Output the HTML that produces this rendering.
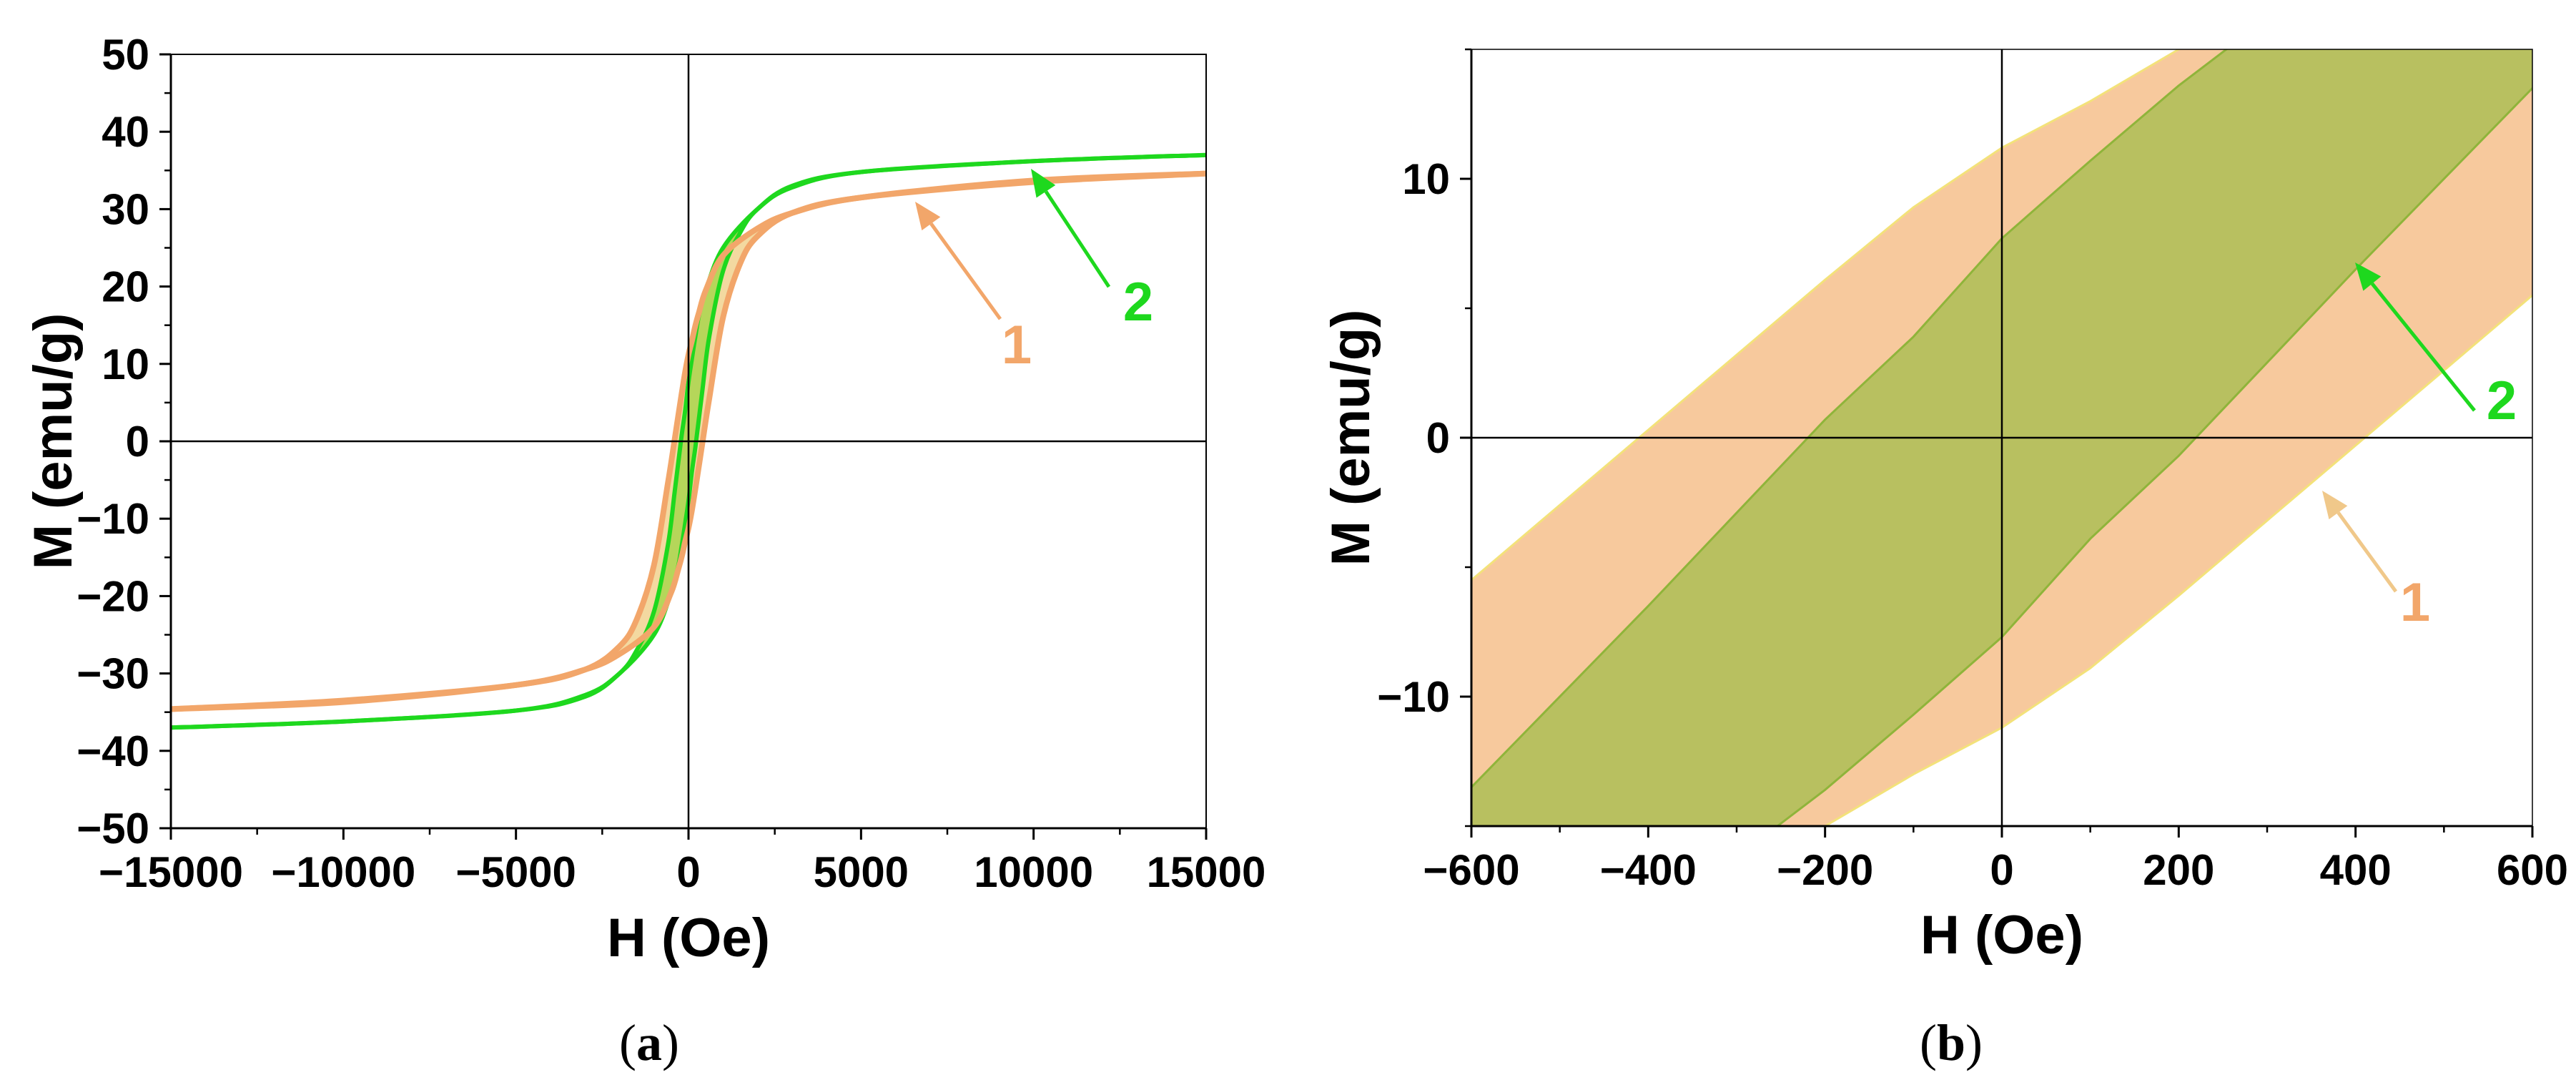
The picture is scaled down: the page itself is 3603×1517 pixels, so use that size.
<!DOCTYPE html>
<html><head><meta charset="utf-8"><style>
html,body{margin:0;padding:0;background:#fff;width:3603px;height:1517px;overflow:hidden}
svg{display:block}
text{font-family:"Liberation Sans",Arial,sans-serif;font-weight:bold}
</style></head><body>
<svg id="fig" width="3603" height="1517" viewBox="0 0 3603 1517" xmlns="http://www.w3.org/2000/svg">
<defs>
<clipPath id="clipA"><rect x="239" y="76" width="1448" height="1082"/></clipPath>
<clipPath id="clipB"><rect x="2058" y="69" width="1484" height="1086"/></clipPath>
</defs>
<g id="panelA"></g>
<g id="panelB"></g>
<text x="908" y="1482" font-size="72" text-anchor="middle" style="font-family:'Liberation Serif',serif;font-weight:normal">(<tspan font-weight="bold">a</tspan>)</text>
<text x="2729" y="1482" font-size="72" text-anchor="middle" style="font-family:'Liberation Serif',serif;font-weight:normal">(<tspan font-weight="bold">b</tspan>)</text>
</svg>
<script>
// Upper (descending) branch H grid and magnetization values; lower branch is M_low(H) = -M_up(-H)
const fieldH = [-15000,-10000,-5000,-3000,-2000,-1500,-1000,-600,-400,-200,-100,0,100,200,300,500,1000,2000,3000,5000,10000,15000];
const sample1Upper = [-34.6,-33.5,-31.5,-29.5,-26.5,-23,-16,-5.5,0.3,6.1,8.9,11.2,13.0,15.0,16.6,19.5,24,27.5,29.5,31.5,33.7,34.6];
const sample2Upper = [-37,-36.2,-34.8,-33,-30,-27,-22,-13.5,-6.5,0.7,3.9,7.7,10.7,13.6,16.2,19.5,25,30,32.8,34.8,36.2,37];
const ticksAX = [-15000,-10000,-5000,0,5000,10000,15000];
const ticksAY = [-50,-40,-30,-20,-10,0,10,20,30,40,50];
const ticksBX = [-600,-400,-200,0,200,400,600];
const ticksBY = [-10,0,10];

const NS = "http://www.w3.org/2000/svg";
function mk(parent, tag, attrs, txt){
  const e = document.createElementNS(NS, tag);
  for (const k in attrs) e.setAttribute(k, attrs[k]);
  if (txt !== undefined) e.textContent = txt;
  parent.appendChild(e);
  return e;
}
function fmt(v){ return v < 0 ? "\u2212" + Math.abs(v) : String(v); }

function loopPts(up, sx, sy){
  const upper = fieldH.map((h,i)=>[sx(h), sy(up[i])]);
  const lower = fieldH.map((h,i)=>[sx(-h), sy(-up[i])]);
  return {upper, lower};
}
function smoothPath(pts){
  let d = "M" + pts[0][0].toFixed(1) + "," + pts[0][1].toFixed(1);
  for (let i=0;i<pts.length-1;i++){
    const p0 = pts[Math.max(0,i-1)], p1 = pts[i], p2 = pts[i+1], p3 = pts[Math.min(pts.length-1,i+2)];
    const c1 = [p1[0]+(p2[0]-p0[0])/6, p1[1]+(p2[1]-p0[1])/6];
    const c2 = [p2[0]-(p3[0]-p1[0])/6, p2[1]-(p3[1]-p1[1])/6];
    d += " C"+c1[0].toFixed(1)+","+c1[1].toFixed(1)+" "+c2[0].toFixed(1)+","+c2[1].toFixed(1)+" "+p2[0].toFixed(1)+","+p2[1].toFixed(1);
  }
  return d;
}
function linePath(pts){
  return pts.map((p,i)=>(i?"L":"M")+p[0].toFixed(1)+","+p[1].toFixed(1)).join(" ");
}
function loopFillPath(up, sx, sy, fn){
  const {upper, lower} = loopPts(up, sx, sy);
  return fn(upper) + fn(lower).replace(/^M/, " L") + " Z";
}

function arrow(g, x1,y1,x2,y2,color,w,name){
  const a = Math.atan2(y2-y1, x2-x1), L = 38, W = 16;
  const bx = x2 - L*Math.cos(a), by = y2 - L*Math.sin(a);
  const ln = mk(g,"line",{x1:x1,y1:y1,x2:bx,y2:by,stroke:color,"stroke-width":w});
  
  
  const hd = mk(g,"polygon",{points:[x2,y2, bx+W*Math.sin(a), by-W*Math.cos(a), bx-W*Math.sin(a), by+W*Math.cos(a)].join(","), fill:color});
  
  
}

function panel(g, cfg){
  const {L,R,T,B,xmin,xmax,ymin,ymax,xt,yt,xminor,yminor,clip} = cfg;
  const sx = h => L + (h - xmin)/(xmax - xmin)*(R - L);
  const sy = m => B - (m - ymin)/(ymax - ymin)*(B - T);
  const data = mk(g,"g",{"clip-path":"url(#"+clip+")"});
  
  
  cfg.draw(data, sx, sy);
  const zx = mk(g,"line",{x1:sx(0),y1:T,x2:sx(0),y2:B,stroke:"#000","stroke-width":2.5});
  
  
  const zy = mk(g,"line",{x1:L,y1:sy(0),x2:R,y2:sy(0),stroke:"#000","stroke-width":2.5});
  
  
  const fr = mk(g,"path",{d:`M${L},${B} L${L},${T} L${R},${T} L${R},${B} Z`,fill:"none",stroke:"#000","stroke-width":cfg.topW});
  
  
  const ax = mk(g,"line",{x1:L,y1:B,x2:R,y2:B,stroke:"#000","stroke-width":3});
  
  
  const ay = mk(g,"line",{x1:L,y1:T,x2:L,y2:B,stroke:"#000","stroke-width":3});
  
  
  xt.forEach(v=>{
    const t = mk(g,"line",{x1:sx(v),y1:B,x2:sx(v),y2:B+16,stroke:"#000","stroke-width":3});
    
    
    const lb = mk(g,"text",{x:sx(v),y:B+82,"font-size":cfg.fs,"text-anchor":"middle"},fmt(v));
    
    
  });
  xminor.forEach(v=>{
    const t = mk(g,"line",{x1:sx(v),y1:B,x2:sx(v),y2:B+9,stroke:"#000","stroke-width":2.5});
    
    
  });
  yt.forEach(v=>{
    const t = mk(g,"line",{x1:L-16,y1:sy(v),x2:L,y2:sy(v),stroke:"#000","stroke-width":3});
    
    
    const lb = mk(g,"text",{x:L-cfg.ylOff,y:sy(v)+21,"font-size":cfg.fs,"text-anchor":"end"},fmt(v));
    
    
  });
  yminor.forEach(v=>{
    const t = mk(g,"line",{x1:L-9,y1:sy(v),x2:L,y2:sy(v),stroke:"#000","stroke-width":2.5});
    
    
  });
  const xtl = mk(g,"text",{x:(L+R)/2,y:cfg.xtY,"font-size":76,"text-anchor":"middle"},"H (Oe)");
  
  
  const ytl = mk(g,"text",{x:0,y:0,"font-size":76,"text-anchor":"middle",transform:`translate(${cfg.ytX},${(T+B)/2}) rotate(-90)`},"M (emu/g)");
  
  
  return {sx, sy};
}

const ORANGE = "#f2a66a", GREEN = "#1ed81e";

panel(document.getElementById("panelA"), {
  L:239,R:1687,T:76,B:1158,xmin:-15000,xmax:15000,ymin:-50,ymax:50,
  xt:ticksAX, yt:ticksAY,
  xminor:[-12500,-7500,-2500,2500,7500,12500],
  yminor:[-45,-35,-25,-15,-5,5,15,25,35,45],
  clip:"clipA", fs:60, ylOff:30, xtY:1337, ytX:100, topW:2,
  draw:(g,sx,sy)=>{
    const f1 = mk(g,"path",{d:loopFillPath(sample1Upper,sx,sy,smoothPath),fill:"#f3d9a0",stroke:"none"});
    
    
    const f2 = mk(g,"path",{d:loopFillPath(sample2Upper,sx,sy,smoothPath),fill:"#b5d65a",stroke:"none"});
    
    
    const p2 = loopPts(sample2Upper,sx,sy);
    [p2.upper,p2.lower].forEach((pts,i)=>{
      const l = mk(g,"path",{d:smoothPath(pts),fill:"none",stroke:GREEN,"stroke-width":6});
      
      
    });
    const p1 = loopPts(sample1Upper,sx,sy);
    [p1.upper,p1.lower].forEach((pts,i)=>{
      const l = mk(g,"path",{d:smoothPath(pts),fill:"none",stroke:ORANGE,"stroke-width":8});
      
      
    });
  }
});

panel(document.getElementById("panelB"), {
  L:2058,R:3542,T:69,B:1155,xmin:-600,xmax:600,ymin:-15,ymax:15,
  xt:ticksBX, yt:ticksBY,
  xminor:[-500,-300,-100,100,300,500],
  yminor:[-15,-5,5,15],
  clip:"clipB", fs:60, ylOff:30, xtY:1333, ytX:1915, topW:1.5,
  draw:(g,sx,sy)=>{
    const f1 = mk(g,"path",{d:loopFillPath(sample1Upper,sx,sy,linePath),fill:"#f7c99d",stroke:"#f3e27a","stroke-width":3});
    
    
    const f2 = mk(g,"path",{d:loopFillPath(sample2Upper,sx,sy,linePath),fill:"#b8c060",stroke:"#8fb43a","stroke-width":3});
    
    
  }
});

const gA = document.getElementById("panelA"), gB = document.getElementById("panelB");
arrow(gA, 1399,446, 1280,282, ORANGE, 5, 'sample-1-arrow');
arrow(gA, 1551,401, 1442,236, GREEN, 5, 'sample-2-arrow');
let t;
t = mk(gA,"text",{x:1422,y:508,"font-size":76,fill:ORANGE,"text-anchor":"middle"},"1");


t = mk(gA,"text",{x:1592,y:448,"font-size":76,fill:GREEN,"text-anchor":"middle"},"2");


arrow(gB, 3461,574, 3294,367, GREEN, 5, 'sample-2-arrow-b');
arrow(gB, 3351,827, 3248,686, "#f0c88a", 5, 'sample-1-arrow-b');
t = mk(gB,"text",{x:3499,y:586,"font-size":76,fill:GREEN,"text-anchor":"middle"},"2");


t = mk(gB,"text",{x:3378,y:868,"font-size":76,fill:ORANGE,"text-anchor":"middle"},"1");


</script>
</body></html>
